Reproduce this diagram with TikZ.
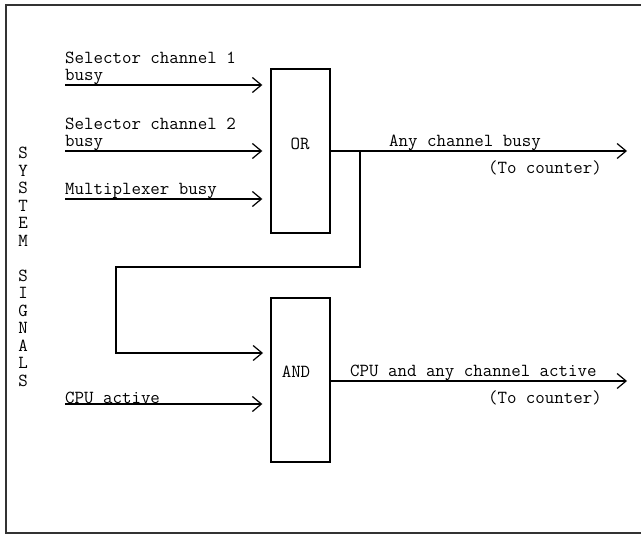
\documentclass[tikz,border=0pt]{standalone}
\usepackage{fontspec}
\usetikzlibrary{arrows.meta}

\begin{document}
\begin{tikzpicture}[x=1pt,y=-1pt,
    every node/.style={font=\ttfamily\fontsize{18.4}{17}\selectfont, inner sep=0pt},
    gate/.style={draw, line width=1.4pt, minimum width=59pt, minimum height=164pt},
    sig/.style={line width=1.2pt, -{Straight Barb[length=9pt,width=15pt,line width=1.2pt]}},
    gap/.style={shorten >=8pt}]
    \useasboundingbox (0,0) rectangle (641,535);

    % Draw frame
    \draw[line width=1.3pt, black!80] (641,5) -- (6,5) -- (6,533) -- (641,533);

    % Gates
    \node[gate] (orgate) at (300.5,151) {};
    \node[gate] (andgate) at (300.5,380) {};
    \node (orlbl) at (300,144) {OR};
    \node (andlbl) at (296,372) {AND};

    % Side label
    \node[align=center, font=\ttfamily\fontsize{18.4}{17.5}\selectfont] (sysig) at (23,267)
        {S\\Y\\S\\T\\E\\M\\ \\S\\I\\G\\N\\A\\L\\S};

    % Inputs
    \coordinate (in1) at (65,85);
    \coordinate (in2) at (65,151);
    \coordinate (in3) at (65,199);
    \coordinate (in4) at (65,404);
    \node[anchor=south west, align=left] (sel1) at (in1) {Selector channel 1\\busy};
    \node[anchor=south west, align=left] (sel2) at (in2) {Selector channel 2\\busy};
    \node[anchor=south west] (mux) at (in3) {Multiplexer busy};
    \node[anchor=south west] (cpu) at (in4) {CPU active};
    \draw[sig, gap] (in1) -- (orgate.west |- in1);
    \draw[sig, gap] (in2) -- (orgate.west |- in2);
    \draw[sig, gap] (in3) -- (orgate.west |- in3);
    \draw[sig, gap] (in4) -- (andgate.west |- in4);

    % Feedback into AND
    \coordinate (jn) at (360,151);
    \coordinate (bend) at (116,267);
    \coordinate (andin) at (271,353);
    \draw[sig, gap] (jn) |- (bend) |- (andin);

    % Outputs
    \coordinate (out1) at (627,151);
    \coordinate (out2) at (627,381);
    \draw[sig] (orgate.east) -- (out1);
    \draw[sig] (andgate.east |- out2) -- (out2);
    \node[anchor=south west] (anybusy) at (389,151) {Any channel busy};
    \node[anchor=east] (cnt1) at (602,168) {(To counter)};
    \node[anchor=south west] (cpuany) at (350,381) {CPU and any channel active};
    \node[anchor=east] (cnt2) at (602,398) {(To counter)};

\end{tikzpicture}
\end{document}
